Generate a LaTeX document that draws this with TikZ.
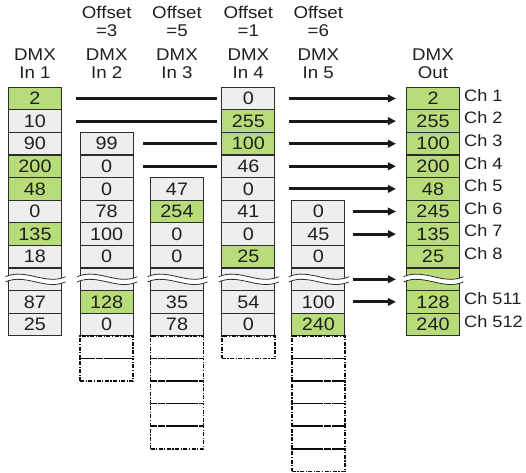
\documentclass[tikz,border=0pt]{standalone}
\usepackage{fontspec}
\setmainfont{Liberation Sans}[FakeStretch=1.1]
\usetikzlibrary{arrows.meta}
\definecolor{cgreen}{RGB}{185,220,122}
\definecolor{cgray}{RGB}{238,238,238}
\definecolor{cline}{RGB}{45,45,45}
\def\yo{87.2}
\def\hh{22.6}
\newcommand\wavebreak[2]{%
  \fill[white] ({#1-3},{#2-2.6}) .. controls ({#1+17},{#2-11.6}) and ({#1+37},{#2+6.4}) .. ({#1+57},{#2-2.6})
    -- ({#1+57},{#2+2.6}) .. controls ({#1+37},{#2+11.6}) and ({#1+17},{#2-6.4}) .. ({#1-3},{#2+2.6}) -- cycle;
  \draw[cline, line width=0.8pt] ({#1-3},{#2-2.6}) .. controls ({#1+17},{#2-11.6}) and ({#1+37},{#2+6.4}) .. ({#1+57},{#2-2.6});
  \draw[cline, line width=0.8pt] ({#1-3},{#2+2.6}) .. controls ({#1+17},{#2-6.4}) and ({#1+37},{#2+11.6}) .. ({#1+57},{#2+2.6});
}
\begin{document}
\begin{tikzpicture}[x=1pt,y=-1pt,
  cell/.style={draw=cline, line width=1.1pt, minimum width=53pt, minimum height=\hh pt, inner sep=0pt,
    font=\fontsize{18}{19}\selectfont, fill=cgray, text=black!88},
  gcell/.style={cell, fill=cgreen},
  dcell/.style={cell, fill=none, draw=black!95, line width=1.6pt, dash pattern=on 4pt off 1.5pt on 1.2pt off 1.5pt},
  conn/.style={line width=3pt, draw=black!90},
  arr/.style={conn, -{Triangle[length=8pt,width=7.5pt]}},
  hdr/.style={font=\fontsize{17}{18}\selectfont, anchor=base, inner sep=0pt, text=black!88},
  chl/.style={font=\fontsize{16.5}{18}\selectfont, anchor=base west, inner sep=0pt, text=black!88}]
\useasboundingbox (0,0) rectangle (526,472);
% headers
\node[hdr] (h1a) at (35,60) {DMX};   \node[hdr] (h1b) at (35,78) {In 1};
\node[hdr] (h2o) at (106.7,18.3) {Offset}; \node[hdr] (h2e) at (106.7,36) {=3};
\node[hdr] (h2a) at (106.7,60) {DMX}; \node[hdr] (h2b) at (106.7,78) {In 2};
\node[hdr] (h3o) at (177,18.3) {Offset}; \node[hdr] (h3e) at (177,36) {=5};
\node[hdr] (h3a) at (177,60) {DMX}; \node[hdr] (h3b) at (177,78) {In 3};
\node[hdr] (h4o) at (248.3,18.3) {Offset}; \node[hdr] (h4e) at (248.3,36) {=1};
\node[hdr] (h4a) at (248.3,60) {DMX}; \node[hdr] (h4b) at (248.3,78) {In 4};
\node[hdr] (h5o) at (318.3,18.3) {Offset}; \node[hdr] (h5e) at (318.3,36) {=6};
\node[hdr] (h5a) at (318.3,60) {DMX}; \node[hdr] (h5b) at (318.3,78) {In 5};
\node[hdr] (hoa) at (433,60) {DMX}; \node[hdr] (hob) at (433,78) {Out};
% In 1
\foreach [count=\i from 0] \v/\s in {2/gcell,10/cell,90/cell,200/gcell,48/gcell,0/cell,135/gcell,18/cell,{}/cell,87/cell,25/cell}
  \node[\s] (a\i) at (35,{\yo+\hh*(\i+0.5)}) {\v};
% In 2
\foreach [count=\i from 2] \v/\s in {99/cell,0/cell,0/cell,78/cell,100/cell,0/cell,{}/cell,128/gcell,0/cell,{}/dcell,{}/dcell}
  \node[\s] (b\i) at (106.7,{\yo+\hh*(\i+0.5)}) {\v};
% In 3
\foreach [count=\i from 4] \v/\s in {47/cell,254/gcell,0/cell,0/cell,{}/cell,35/cell,78/cell,{}/dcell,{}/dcell,{}/dcell,{}/dcell,{}/dcell}
  \node[\s] (c\i) at (177,{\yo+\hh*(\i+0.5)}) {\v};
% In 4
\foreach [count=\i from 0] \v/\s in {0/cell,255/gcell,100/gcell,46/cell,0/cell,41/cell,0/cell,25/gcell,{}/cell,54/cell,0/cell,{}/dcell}
  \node[\s] (d\i) at (248.3,{\yo+\hh*(\i+0.5)}) {\v};
% In 5
\foreach [count=\i from 5] \v/\s in {0/cell,45/cell,0/cell,{}/cell,100/cell,240/gcell,{}/dcell,{}/dcell,{}/dcell,{}/dcell,{}/dcell,{}/dcell}
  \node[\s] (e\i) at (318.3,{\yo+\hh*(\i+0.5)}) {\v};
% Out
\foreach [count=\i from 0] \v in {2,255,100,200,48,245,135,25,{},128,240}
  \node[gcell] (o\i) at (433,{\yo+\hh*(\i+0.5)}) {\v};
% channel labels
\foreach \i/\t in {0/Ch 1,1/Ch 2,2/Ch 3,3/Ch 4,4/Ch 5,5/Ch 6,6/Ch 7,7/Ch 8,9/Ch 511,10/Ch 512}
  \node[chl] (ch\i) at (464,{\yo+\hh*(\i+0.5)+2.7}) {\t};
% breaks
\foreach \xl in {8.5,80.2,150.5,221.8,291.8,406.5}
  \wavebreak{\xl}{\yo+\hh*8.5};
% connectors
\draw[conn, shorten <=14pt, shorten >=4pt] (a0.east) -- (d0.west);
\draw[conn, shorten <=14pt, shorten >=4pt] (a1.east) -- (d1.west);
\draw[conn, shorten <=9pt, shorten >=4pt] (b2.east) -- (d2.west);
\draw[conn, shorten <=9pt, shorten >=4pt] (b3.east) -- (d3.west);
\foreach \i in {0,...,4}
  \draw[arr, shorten <=14pt, shorten >=10pt] (d\i.east) -- (o\i.west);
\foreach \i in {5,6,8,9}
  \draw[arr, shorten <=8pt, shorten >=10pt] (e\i.east) -- (o\i.west);
\end{tikzpicture}
\end{document}
